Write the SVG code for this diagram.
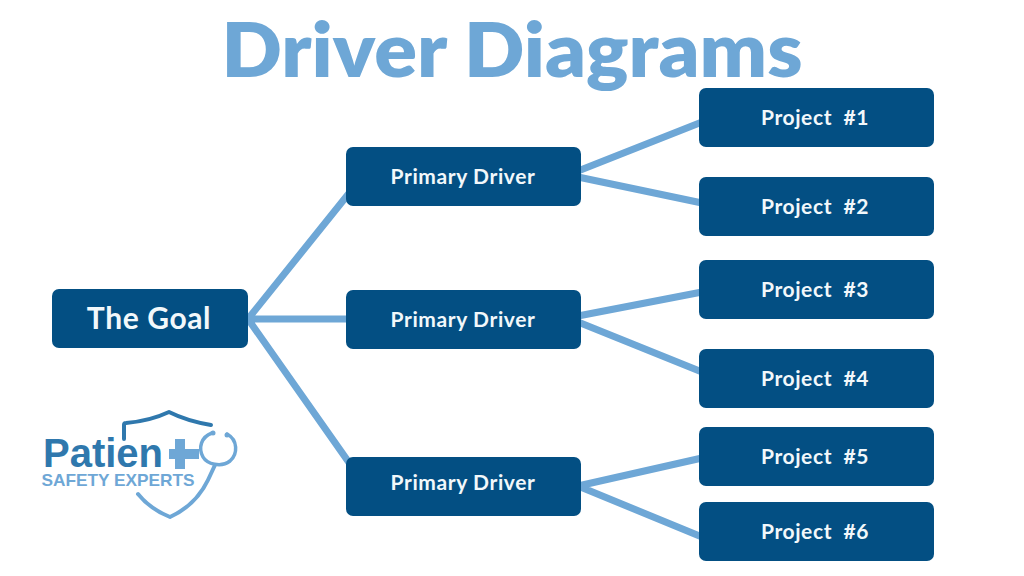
<svg xmlns="http://www.w3.org/2000/svg" width="1024" height="576" viewBox="0 0 1024 576">
<style>
text{font-family:"Lato","Noto Sans",sans-serif;font-weight:700;text-anchor:middle}
.box{fill:#034f83}
.lbl{fill:#f2f8fb;font-size:21px;letter-spacing:.6px}
.link{stroke:#6ea7d6;stroke-width:7;fill:none}
.title{fill:#6ea7d6;font-size:75px;font-weight:800}
</style>
<rect width="1024" height="576" fill="#fff"/>
<text class="title" x="512" y="77" textLength="581" lengthAdjust="spacingAndGlyphs">Driver Diagrams</text>
<g id="connectors" class="link">
<path d="M248 319L350 192M248 319H350M248 319L350 464"/>
<path d="M578 171L702 122M578 177L702 203"/>
<path d="M578 316L702 292M578 322L702 372"/>
<path d="M578 486L702 458M578 486L702 537"/>
</g>
<g id="goal"><rect class="box" x="52" y="289" width="196" height="59" rx="7"/><text class="lbl" style="font-size:30px" x="149" y="329">The Goal</text></g>
<g id="driver1"><rect class="box" x="346" y="147" width="235" height="59" rx="7"/><text class="lbl" x="463" y="184">Primary Driver</text></g>
<g id="driver2"><rect class="box" x="346" y="290" width="235" height="59" rx="7"/><text class="lbl" x="463" y="327">Primary Driver</text></g>
<g id="driver3"><rect class="box" x="346" y="457" width="235" height="59" rx="7"/><text class="lbl" x="463" y="490">Primary Driver</text></g>
<g id="project1"><rect class="box" x="699" y="88" width="235" height="59" rx="7"/><text class="lbl" xml:space="preserve" x="815" y="125">Project  #1</text></g>
<g id="project2"><rect class="box" x="699" y="177" width="235" height="59" rx="7"/><text class="lbl" xml:space="preserve" x="815" y="214">Project  #2</text></g>
<g id="project3"><rect class="box" x="699" y="260" width="235" height="59" rx="7"/><text class="lbl" xml:space="preserve" x="815" y="297">Project  #3</text></g>
<g id="project4"><rect class="box" x="699" y="349" width="235" height="59" rx="7"/><text class="lbl" xml:space="preserve" x="815" y="386">Project  #4</text></g>
<g id="project5"><rect class="box" x="699" y="427" width="235" height="59" rx="7"/><text class="lbl" xml:space="preserve" x="815" y="464">Project  #5</text></g>
<g id="project6"><rect class="box" x="699" y="502" width="235" height="59" rx="7"/><text class="lbl" xml:space="preserve" x="815" y="539">Project  #6</text></g>
<g id="logo" fill="none" stroke-linecap="round" stroke-linejoin="round">
<path d="M124 439V425Q124 423 126 423Q150 421 169 412Q187 421 211 425" stroke="#2f78ad" stroke-width="4"/>
<path d="M138 494Q150 509 170 517Q196 505 208 480L215 465" stroke="#6ea7d6" stroke-width="4"/>
<path d="M212 433C201 437 198 448 203 457C207 464 221 468 230 461C238 454 238 440 227 434" stroke="#6ea7d6" stroke-width="3.5"/>
<circle cx="213" cy="433" r="2.5" fill="#6ea7d6"/><circle cx="227" cy="435" r="2.5" fill="#6ea7d6"/>
<path d="M176 439V469M165 454H195" stroke="#6ea7d6" stroke-width="10" stroke-linecap="butt" transform="translate(4 0)"/>
<text x="103" y="467" style="font-family:'Liberation Sans',sans-serif;font-size:40px;fill:#2f78ad" textLength="120" lengthAdjust="spacingAndGlyphs">Patien</text>
<text x="118" y="486" style="font-family:'Liberation Sans',sans-serif;font-size:17px;fill:#6ea7d6" textLength="153" lengthAdjust="spacingAndGlyphs">SAFETY EXPERTS</text>
</g>
</svg>
